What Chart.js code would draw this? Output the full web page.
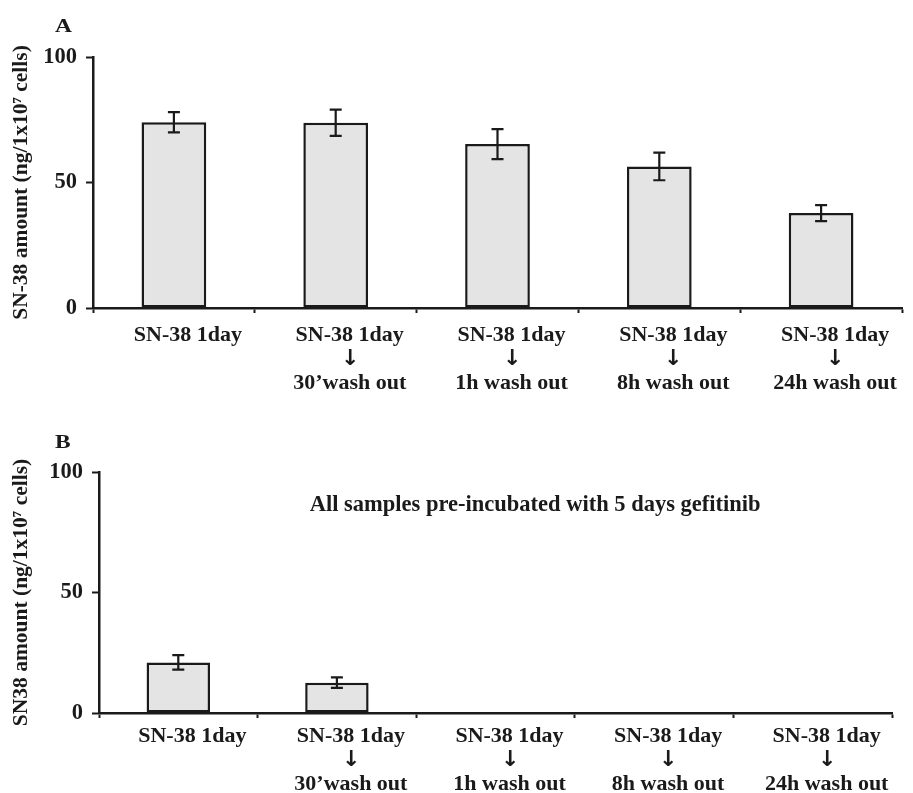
<!DOCTYPE html>
<html>
<head>
<meta charset="utf-8">
<script src="https://cdn.jsdelivr.net/npm/chart.js@4.4.1/dist/chart.umd.min.js"></script>
<style>
  @font-face { font-family: "ArrowGlyph"; src: local("DejaVu Sans Bold"), local("DejaVuSans-Bold"); font-weight: bold; unicode-range: U+2193; }
  body { margin: 0; background: #fff; }
  #wrap { position: relative; width: 913px; height: 793px; overflow: hidden; }
  .panel { position: absolute; left: 0; width: 913px; }
</style>
</head>
<body>
<div id="wrap">
  <div class="panel" style="top:0;height:395px"><canvas id="chartA" width="913" height="395"></canvas></div>
  <div class="panel" style="top:395px;height:398px"><canvas id="chartB" width="913" height="398"></canvas></div>
</div>
<script>
// data
const categories = [
  ['SN-38 1day'],
  ['SN-38 1day', '↓', '30’wash out'],
  ['SN-38 1day', '↓', '1h wash out'],
  ['SN-38 1day', '↓', '8h wash out'],
  ['SN-38 1day', '↓', '24h wash out']
];
const valuesA = [74, 73.8, 65.3, 56.4, 37.8];
const errorsA = [4, 5.2, 6, 5.5, 3.2];
const valuesB = [21, 12.6, 0, 0, 0];
const errorsB = [3, 2.2, 0, 0, 0];
const yTicks = [0, 50, 100];

const FONT = '"ArrowGlyph", "Liberation Serif", "Times New Roman", serif';
const INK = '#1a1a1a';

// error bars + panel letter + note
const extras = {
  id: 'extras',
  afterDraw(chart, args, opts) {
    const { ctx, scales: { x, y }, chartArea } = chart;
    const vals = chart.data.datasets[0].data;
    ctx.save();
    ctx.strokeStyle = INK;
    ctx.lineWidth = 2.2;
    vals.forEach((v, i) => {
      const e = opts.errors[i];
      if (!e) return;
      const cx = x.getPixelForValue(i);
      const t = y.getPixelForValue(v + e), b = y.getPixelForValue(v - e);
      ctx.beginPath();
      ctx.moveTo(cx, t); ctx.lineTo(cx, b);
      ctx.moveTo(cx - 6, t); ctx.lineTo(cx + 6, t);
      ctx.moveTo(cx - 6, b); ctx.lineTo(cx + 6, b);
      ctx.stroke();
    });
    ctx.fillStyle = INK;
    ctx.textAlign = 'left';
    ctx.textBaseline = 'alphabetic';
    // the panel letters are wide and short in the figure
    ctx.save();
    ctx.translate(55, opts.letterY);
    ctx.scale(1.3, 1);
    ctx.font = 'bold 18px "Liberation Serif", serif';
    ctx.fillText(opts.letter, 0, 0);
    ctx.restore();
    if (opts.note) {
      ctx.font = 'bold 22.5px ' + FONT;
      ctx.textAlign = 'center';
      ctx.fillText(opts.note, chartArea.left + 0.55 * (chartArea.right - chartArea.left), y.getPixelForValue(84));
    }
    ctx.restore();
  }
};

function makeChart(id, values, errors, yTitle, box, extraOpts) {
  return new Chart(document.getElementById(id), {
    type: 'bar',
    data: {
      labels: categories,
      datasets: [{
        data: values,
        backgroundColor: '#e4e4e4',
        borderColor: INK,
        borderWidth: 2.5,
        borderSkipped: false,
        categoryPercentage: 1,
        barPercentage: 0.4
      }]
    },
    options: {
      responsive: false,
      animation: false,
      layout: { padding: { top: box.top, right: box.right, left: 0, bottom: 0 } },
      plugins: { legend: { display: false }, tooltip: { enabled: false }, extras: extraOpts },
      scales: {
        x: {
          grid: { display: true, drawOnChartArea: false, drawTicks: true, tickLength: 5, tickColor: INK, tickWidth: 2, offset: true },
          border: { color: INK, width: 2.5 },
          ticks: { color: INK, font: { family: FONT, size: 22, weight: 'bold', lineHeight: 24 / 22 }, padding: box.pad, labelOffset: 14, maxRotation: 0, autoSkip: false },
          afterFit: s => { s.height = box.xh; }
        },
        y: {
          min: 0, max: 100,
          afterBuildTicks: s => { s.ticks = yTicks.map(v => ({ value: v })); },
          grid: { display: true, drawOnChartArea: false, drawTicks: true, tickLength: 7, tickColor: INK, tickWidth: 2 },
          border: { color: INK, width: 2.5 },
          ticks: { color: INK, font: { family: FONT, size: 22.5, weight: 'bold' }, padding: 9 },
          title: { display: true, text: yTitle, color: INK, font: { family: FONT, size: 21.5, weight: 'bold' }, padding: { top: 9, bottom: 0 } },
          afterFit: s => { s.width = box.left; }
        }
      }
    },
    plugins: [extras]
  });
}

function draw() {
  makeChart('chartA', valuesA, errorsA, 'SN-38 amount (ng/1x10⁷ cells)',
    { top: 57, right: 11, left: 93, xh: 87, pad: 10 },
    { errors: errorsA, letter: 'A', letterY: 32, note: null });

  makeChart('chartB', valuesB, errorsB, 'SN38 amount (ng/1x10⁷ cells)',
    { top: 77, right: 21, left: 99, xh: 80, pad: 6 },
    { errors: errorsB, letter: 'B', letterY: 53, note: 'All samples pre-incubated with 5 days gefitinib' });
}

document.fonts.load('bold 22px ArrowGlyph', '↓').then(draw, draw);
</script>
</body>
</html>
